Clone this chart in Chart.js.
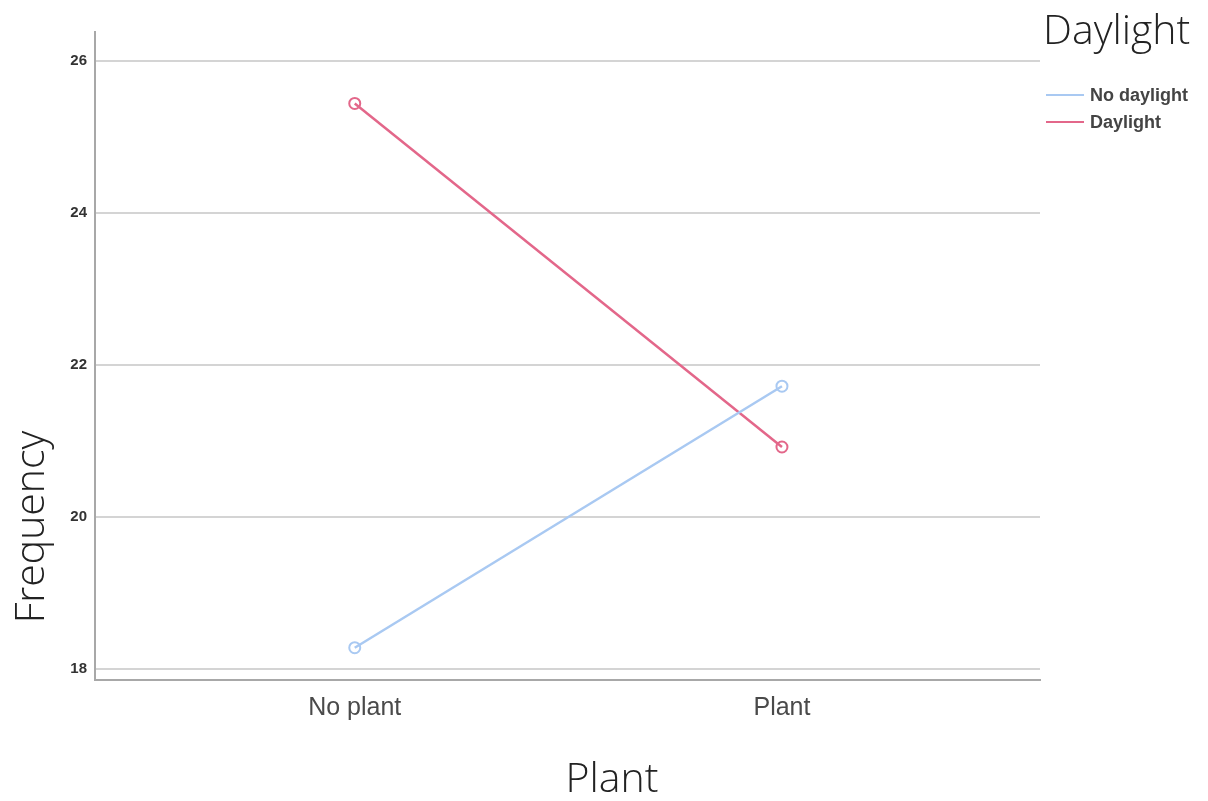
<!DOCTYPE html>
<html>
<head>
<meta charset="utf-8">
<script src="https://cdn.jsdelivr.net/npm/chart.js@4/dist/chart.umd.min.js"></script>
<style>
    html, body { margin: 0; padding: 0; background: #fff; }
    #wrap { width: 1208px; height: 801px; position: relative; }
</style>
</head>
<body>
<div id="wrap"><canvas id="chart"></canvas></div>
<script>
const categories = ['No plant', 'Plant'];
const noDaylight = [18.28, 21.72];
const daylight = [25.44, 20.92];
const yTicks = [18, 20, 22, 24, 26];
const seriesNames = ['No daylight', 'Daylight'];
const legendTitle = 'Daylight';
const xTitle = 'Plant';
const yTitle = 'Frequency';

const blue = '#a9c9f2';
const red = '#e3678a';

// category positions on a numeric axis so the spacing matches the original
const toPoints = (values) => values.map((v, i) => ({ x: i, y: v }));

const titles = {
    id: 'titles',
    afterDraw(chart) {
        const { ctx, chartArea } = chart;
        ctx.save();
        ctx.fillStyle = '#222';
        ctx.font = '300 41px "Open Sans"';
        ctx.textAlign = 'center';
        ctx.textBaseline = 'middle';
        ctx.fillText(xTitle, 612, 780);
        ctx.translate(32, 527);
        ctx.rotate(-Math.PI / 2);
        ctx.fillText(yTitle, 0, 0);
        ctx.restore();

        // legend
        ctx.save();
        const lx = chartArea.right + 6;
        ctx.fillStyle = '#222';
        ctx.font = '300 41px "Open Sans"';
        ctx.textAlign = 'left';
        ctx.textBaseline = 'middle';
        ctx.fillText(legendTitle, lx - 3, 32);
        ctx.font = 'bold 18px "Liberation Sans"';
        ctx.fillStyle = '#444';
        [blue, red].forEach((c, i) => {
            const y = 95 + i * 27;
            ctx.strokeStyle = c;
            ctx.lineWidth = 2;
            ctx.beginPath();
            ctx.moveTo(lx, y);
            ctx.lineTo(lx + 38, y);
            ctx.stroke();
            ctx.fillText(seriesNames[i], lx + 44, y + 1);
        });
        ctx.restore();
    }
};

new Chart(document.getElementById('chart'), {
    type: 'line',
    data: {
        datasets: [
            {
                label: seriesNames[0],
                data: toPoints(noDaylight),
                borderColor: blue,
                borderWidth: 2.5,
                pointRadius: 5.5,
                pointBorderWidth: 2,
                pointBorderColor: blue,
                pointBackgroundColor: 'rgba(255,255,255,0)'
            },
            {
                label: seriesNames[1],
                data: toPoints(daylight),
                borderColor: red,
                borderWidth: 2.5,
                pointRadius: 5.5,
                pointBorderWidth: 2,
                pointBorderColor: red,
                pointBackgroundColor: 'rgba(255,255,255,0)'
            }
        ]
    },
    options: {
        responsive: true,
        maintainAspectRatio: false,
        animation: false,
        events: [],
        layout: { padding: { top: 32, right: 168, bottom: 0, left: 0 } },
        plugins: { legend: { display: false }, tooltip: { enabled: false } },
        scales: {
            x: {
                type: 'linear',
                min: -0.608,
                max: 1.604,
                afterBuildTicks: (scale) => { scale.ticks = categories.map((_, i) => ({ value: i })); },
                afterFit: (scale) => { scale.height = 121; },
                grid: { display: false, drawTicks: false },
                border: { color: '#a8a8a8', width: 2 },
                ticks: {
                    callback: (v) => categories[v] ?? '',
                    color: '#4a4a4a',
                    font: { family: 'Liberation Sans', size: 25 },
                    padding: 13
                }
            },
            y: {
                min: 17.855,
                max: 26.38,
                afterBuildTicks: (scale) => { scale.ticks = yTicks.map((v) => ({ value: v })); },
                afterFit: (scale) => { scale.width = 95; },
                grid: { color: '#d4d4d4', lineWidth: 2, drawTicks: false },
                border: { color: '#a8a8a8', width: 2 },
                ticks: {
                    color: '#333',
                    font: { family: 'Liberation Sans', size: 15, weight: 'bold' },
                    padding: 8
                }
            }
        }
    },
    plugins: [titles]
});
</script>
</body>
</html>
